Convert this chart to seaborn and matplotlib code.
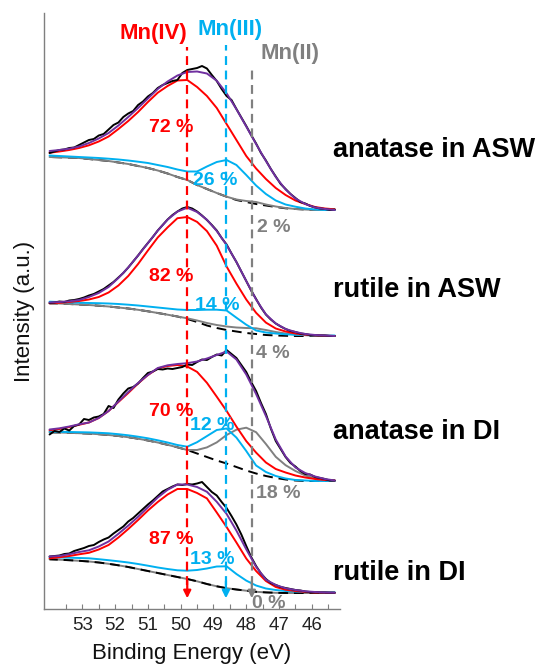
import matplotlib
matplotlib.use("Agg")
import matplotlib.pyplot as plt
import matplotlib.transforms as mtransforms
from matplotlib.ticker import FixedLocator, FuncFormatter
import seaborn as sns
import numpy as np

# ---------------- data ----------------
energy = [54.0, 53.7, 53.4, 53.1, 52.8, 52.5, 52.2, 51.9, 51.6, 51.3, 51.0, 50.7, 50.4, 50.1, 49.8,
          49.5, 49.2, 48.9, 48.6, 48.3, 48.0, 47.7, 47.4, 47.1, 46.8, 46.5, 46.2, 45.9, 45.6, 45.3]
data_energy = [54.0, 53.85, 53.7, 53.55, 53.4, 53.25, 53.1, 52.95, 52.8, 52.65, 52.5, 52.35, 52.2, 52.05,
               51.9, 51.75, 51.6, 51.45, 51.3, 51.15, 51.0, 50.85, 50.7, 50.55, 50.4, 50.25, 50.1, 49.95,
               49.8, 49.65, 49.5, 49.35, 49.2, 49.05, 48.9, 48.75, 48.6, 48.45, 48.3, 48.15, 48.0, 47.85,
               47.7, 47.55, 47.4, 47.25, 47.1, 46.95, 46.8, 46.65, 46.5, 46.35, 46.2, 46.05, 45.9, 45.75,
               45.6, 45.45, 45.3]

tick_values = [53, 52, 51, 50, 49, 48, 47, 46]
minor_tick_values = [53.5, 52.5, 51.5, 50.5, 49.5, 48.5, 47.5, 46.5, 45.5]

samples = ["anatase in ASW", "rutile in ASW", "anatase in DI", "rutile in DI"]
offsets = [399, 273, 128, 16]

# anatase in ASW
bg_1 = [53, 52.7, 52.4, 52, 51, 50, 49, 47.5, 46, 44, 42, 39.5, 36.5, 33, 30, 25, 21, 17, 13.3, 10, 8, 6, 4.5, 3, 1.7, 1, 0.5, 0, 0, 0]
mn2_1 = [53, 52.7, 52.4, 52, 51, 50, 49, 47.5, 46, 44, 42, 39.5, 36.5, 33, 30, 25, 21, 17, 13.3, 10.5, 9, 8, 5.5, 3.5, 2, 1, 0.5, 0, 0, 0]
mn3_1 = [54.5, 54, 53.5, 53, 52.5, 52, 51.3, 50.5, 49.5, 48.3, 47, 45, 43, 40.5, 38.5, 38.5, 43.5, 48, 50, 45, 35, 24.5, 16, 9.5, 5.5, 3.3, 1.5, 0.5, 0, 0]
mn4_1 = [57.3, 58.5, 60, 62, 64.7, 68.5, 73.5, 81, 89, 98, 108, 117.3, 124, 129.5, 130, 123, 114, 102, 86, 70, 54, 41.5, 31, 22, 15, 9.5, 6, 3, 1.5, 0.7]
env_1 = [59, 60, 61.3, 63.5, 67, 71.5, 77, 84.5, 93, 102, 111.5, 121, 128.5, 134.5, 138, 138.5, 136.5, 129.3, 116.7, 100.8, 83.5, 66, 49, 33, 20.5, 11.5, 6, 2.5, 1, 0]
raw_1 = [57, 58.5, 60, 60.5, 62, 62.5, 65, 67.5, 70, 71, 74.5, 76, 80.5, 85, 87.5, 93, 96.5, 99, 105, 108.5,
         113.5, 117, 122, 125, 127, 129, 130, 137, 140, 141, 142, 144, 141.5, 135, 129, 121, 114, 110, 101,
         92.5, 84, 75, 66.5, 57, 49.5, 41, 33.5, 26, 21, 16, 12, 8, 6.5, 4, 2.5, 1.5, 1, 0, 0.5]

# rutile in ASW
bg_2 = [32.7, 32.5, 32, 31.5, 31, 30.3, 29.5, 28.5, 27.5, 26.2, 24.7, 23, 21.3, 19.5, 17, 14, 10.5, 8, 6, 4.5, 3, 2, 1, 0.5, 0.2, 0, 0, 0, 0, 0]
mn2_2 = [32.7, 32.5, 32, 31.5, 31, 30.3, 29.5, 28.5, 27.5, 26.2, 24.7, 23, 21.3, 19.5, 17.7, 15.5, 13, 11, 9.5, 8.5, 8, 7.7, 6, 4, 2.5, 1.5, 0.8, 0.4, 0, 0]
mn3_2 = [34.3, 34, 33.7, 33.3, 33, 32.8, 32.5, 32, 31.3, 30.5, 29.5, 28.5, 27.5, 26.5, 26, 26, 26.3, 26.3, 25.5, 18.3, 11.3, 5.5, 3.5, 2.5, 1.7, 1.2, 1, 0.7, 0.5, 0.5]
mn4_2 = [32.7, 33.2, 34, 35, 36.5, 39, 43.5, 50.5, 60, 72, 85.5, 98.5, 108.6, 117.8, 119, 114.1, 104.9, 90.3, 69.5, 52.4, 36.5, 23.2, 13.4, 7.5, 4.5, 2.5, 1.3, 0.7, 0.3, 0]
env_2 = [33.5, 34, 34.7, 36, 39, 43, 49, 58, 68.5, 80.5, 92.9, 105.4, 116.4, 124.4, 128.3, 124, 116.3, 105, 91, 74, 55, 36.5, 21.5, 12.5, 7, 4, 2, 1, 0.5, 0]
raw_2 = [33, 33.5, 34.5, 34, 35.5, 36, 37, 38.5, 40.5, 42, 44.5, 47, 50.5, 54, 58.5, 63, 68.5, 74.5, 80.5, 87,
         93, 99, 105.5, 111, 116.5, 121, 124.5, 127.5, 129, 127.5, 124.5, 120.5, 116, 111, 105.5, 98, 91.5,
         82.5, 74, 64.5, 55, 45.5, 37, 28.5, 21.5, 16.5, 12.5, 9.5, 7, 5, 4, 2.5, 2, 1, 1, 0.5, 0.5, 0, 0]

# anatase in DI
bg_3 = [48.7, 48.5, 48.2, 47.8, 47.4, 46.8, 46, 45, 43.8, 42.3, 40.5, 38.5, 36.2, 33.7, 31, 27.5, 24, 20.5, 17.5, 14, 10.5, 7.5, 5, 3, 1.5, 0.5, 0, 0, 0, 0]
mn2_3 = [48.7, 48.5, 48.2, 47.8, 47.4, 46.8, 46, 45, 43.8, 42.3, 40.5, 38.5, 36.2, 33.7, 31, 31, 33.6, 38.6, 46, 51.3, 53.3, 48.8, 37, 24.2, 15.8, 10, 5.5, 2.5, 1, 0]
mn3_3 = [49.3, 49.2, 49, 48.8, 48.6, 48.2, 47.7, 46.8, 45.7, 44.3, 42.7, 40.7, 38.5, 36, 34.3, 38.8, 44.9, 51, 52.5, 43.4, 30, 15.5, 9, 5, 2.5, 1, 0.5, 0, 0, 0]
mn4_3 = [50.7, 52, 54, 56.2, 58.5, 63, 70, 79, 88, 97.5, 106, 112.5, 115, 116, 114.5, 109.1, 98.2, 84.3, 70.1, 54.4, 39.9, 28.4, 18.5, 12, 8.5, 5.5, 3.5, 2, 1, 0.5]
env_3 = [51.5, 52.7, 54.5, 56.7, 58.5, 63, 70, 79.5, 89, 98, 106, 113, 115.7, 117, 117.8, 119.5, 122.5, 126, 129.5, 121.5, 106.5, 87, 65, 41.5, 24.5, 13.5, 8, 4.5, 2, 0.5]
raw_3 = [46.5, 50, 49, 52.5, 50.5, 55, 56.5, 62, 61, 63.5, 64.5, 67, 75, 73, 81.5, 87.5, 92.5, 94, 97.5, 103,
         108, 109.5, 112, 111.5, 112.5, 112, 113, 114, 116.5, 116, 119, 121.5, 121, 124, 126.5, 125.5, 131,
         127, 123, 116, 109, 99, 90, 78, 67, 52.5, 40, 32, 24, 18, 14.5, 10, 7, 6.5, 4, 3, 2, 0.5, 0.5]

# rutile in DI
bg_4 = [33.7, 33.3, 32.8, 32.2, 31.5, 30.5, 29.2, 27.7, 26, 24, 22, 20, 18, 16, 14, 11.7, 9, 6.7, 4.8, 3.5, 2.3, 1.2, 0.6, 0.2, 0, 0, 0, 0, 0, 0]
mn2_4 = [33.7, 33.3, 32.8, 32.2, 31.5, 30.5, 29.2, 27.7, 26, 24, 22, 20, 18, 16, 14, 11.7, 9, 6.7, 4.8, 3.5, 2.3, 1.2, 0.6, 0.2, 0, 0, 0, 0, 0, 0]
mn3_4 = [35.5, 35.5, 35.3, 35, 34.7, 33.8, 32.8, 31.7, 30.5, 29, 27.3, 25.5, 24, 22.7, 22.3, 23, 24.5, 26.5, 26.7, 19, 12.4, 7.5, 4.5, 3, 2, 1.4, 1, 0.8, 0.7, 0.7]
mn4_4 = [34.7, 35.7, 37, 38.7, 40.2, 43.5, 48, 55.5, 64, 73, 82.5, 91, 98.5, 104, 104, 100, 94.6, 80.5, 66, 50.5, 34.5, 22, 12, 6, 3.3, 2, 1, 0.5, 0.3, 0.2]
env_4 = [36.5, 37, 38.8, 41, 42.7, 46.5, 51.5, 59.2, 67.4, 76.2, 85.8, 95.5, 103.2, 108.5, 108.5, 106, 101.2, 91.2, 79.1, 62.4, 43.7, 26.2, 13.3, 8, 4.7, 3, 1.7, 1, 0.5, 0.3]
raw_4 = [36.5, 37, 37.5, 39, 39.5, 42, 43.5, 45, 47, 48, 51, 53.5, 55.5, 59.5, 63, 66.5, 71.5, 75, 79.5, 84,
         88.5, 92.5, 97, 101.5, 104, 106.5, 108.5, 108, 109, 108.5, 109.5, 111, 106, 101, 97.5, 91, 85, 77,
         68.5, 58.5, 47, 36, 27, 19.5, 14, 10, 8, 6, 5, 4, 3, 2.5, 1.5, 1, 1, 0.5, 0.5, 0.3, 0.3]

backgrounds = [bg_1, bg_2, bg_3, bg_4]
mn2 = [mn2_1, mn2_2, mn2_3, mn2_4]
mn3 = [mn3_1, mn3_2, mn3_3, mn3_4]
mn4 = [mn4_1, mn4_2, mn4_3, mn4_4]
envelopes = [env_1, env_2, env_3, env_4]
raw = [raw_1, raw_2, raw_3, raw_4]

pct_mn4 = ["72 %", "82 %", "70 %", "87 %"]
pct_mn3 = ["26 %", "14 %", "12 %", "13 %"]
pct_mn2 = ["2 %", "4 %", "18 %", "0 %"]

states = ["Mn(IV)", "Mn(III)", "Mn(II)"]
state_energy = [49.8, 48.62, 47.83]

# ---------------- style ----------------
RED = "#ff0000"
BLUE = "#00b0f0"
GRAY = "#808080"
PURPLE = "#7030a0"

sns.set_theme(style="white")
plt.rcParams["font.family"] = ["Liberation Sans", "DejaVu Sans"]

W, H = 538, 667
fig = plt.figure(figsize=(W / 100, H / 100), dpi=100)
ax = fig.add_axes([44 / W, 1 - 609 / H, (340 - 44) / W, (609 - 13) / H])

lw = 1.4
for i in range(4):
    off = offsets[i]
    bgv = np.array(backgrounds[i]) + off
    sns.lineplot(x=energy, y=bgv, ax=ax, color="black", lw=lw, linestyle=(0, (5, 3)),
                 zorder=3 if i < 3 else 4.5)
    sns.lineplot(x=energy, y=np.array(mn2[i]) + off, ax=ax, color=GRAY, lw=lw, zorder=4)
    sns.lineplot(x=energy, y=np.array(mn3[i]) + off, ax=ax, color=BLUE, lw=lw, zorder=5)
    sns.lineplot(x=energy, y=np.array(mn4[i]) + off, ax=ax, color=RED, lw=lw, zorder=6)
    sns.lineplot(x=data_energy, y=np.array(raw[i]) + off, ax=ax, color="black", lw=lw, zorder=7)
    sns.lineplot(x=energy, y=np.array(envelopes[i]) + off, ax=ax, color=PURPLE, lw=lw, zorder=8)

ax.set_xlim(54.17, 45.14)
ax.set_ylim(0, 596)

# vertical dashed guides with arrow heads
trans = mtransforms.blended_transform_factory(ax.transData, ax.transAxes)
guide_cols = [RED, BLUE, GRAY]
guide_tops = [0.943, 0.946, 0.913]
for e, c, top in zip(state_energy, guide_cols, guide_tops):
    ax.plot([e, e], [0.04, top], transform=trans, color=c, lw=1.6, linestyle=(0, (4, 2.5)), zorder=9,
            clip_on=False)
    ax.annotate("", xy=(e, 0.018), xycoords=trans, xytext=(e, 0.047), textcoords=trans,
                arrowprops=dict(arrowstyle="-|>", color=c, lw=1.6, mutation_scale=11,
                                shrinkA=0, shrinkB=0), zorder=9, annotation_clip=False)

# axes styling
for s in ["top", "right"]:
    ax.spines[s].set_visible(False)
for s in ["left", "bottom"]:
    ax.spines[s].set_color("#7f7f7f")
    ax.spines[s].set_linewidth(1.0)
ax.set_yticks([])
ax.xaxis.set_major_locator(FixedLocator(tick_values))
ax.xaxis.set_minor_locator(FixedLocator(minor_tick_values))
ax.tick_params(axis="x", which="both", direction="in", length=3.5, width=0.8, color="#7f7f7f",
               bottom=True, labelsize=13.5, labelcolor="#222222", pad=6)
ax.xaxis.set_major_formatter(FuncFormatter(lambda v, p: f"{v:.0f}"))
ax.set_xlabel("Binding Energy (eV)", fontsize=16, color="#111111", labelpad=6)
ax.set_ylabel("Intensity (a.u.)", fontsize=16, color="#111111")
ax.yaxis.set_label_coords(-0.03, 0.5)
ax.set_facecolor("white")


def ftext(px, py, s, **kw):
    fig.text(px / W, 1 - py / H, s, **kw)


# state labels
ftext(153, 33, states[0], color=RED, fontsize=16, fontweight="bold", ha="center", va="center")
ftext(230, 30, states[1], color=BLUE, fontsize=16, fontweight="bold", ha="center", va="center")
ftext(290, 54, states[2], color=GRAY, fontsize=16, fontweight="bold", ha="center", va="center")

# percentage labels
red_pos = [(171, 128), (171, 277), (171, 412), (171, 540)]
blue_pos = [(215, 181), (217, 306), (212, 425), (212, 559)]
gray_pos = [(274, 227), (273, 353), (278, 494), (269, 603)]
for i in range(4):
    ftext(*red_pos[i], pct_mn4[i], color=RED, fontsize=14, fontweight="bold", ha="center", va="center", zorder=10)
    ftext(*blue_pos[i], pct_mn3[i], color=BLUE, fontsize=14, fontweight="bold", ha="center", va="center", zorder=10)
    ftext(*gray_pos[i], pct_mn2[i], color=GRAY, fontsize=14, fontweight="bold", ha="center", va="center", zorder=10)

# sample labels
sample_y = [150, 290, 432, 573]
for s, y in zip(samples, sample_y):
    ftext(333, y, s, color="black", fontsize=19.5, fontweight="bold", ha="left", va="center")

fig.savefig("out.png", dpi=100, facecolor="white")
